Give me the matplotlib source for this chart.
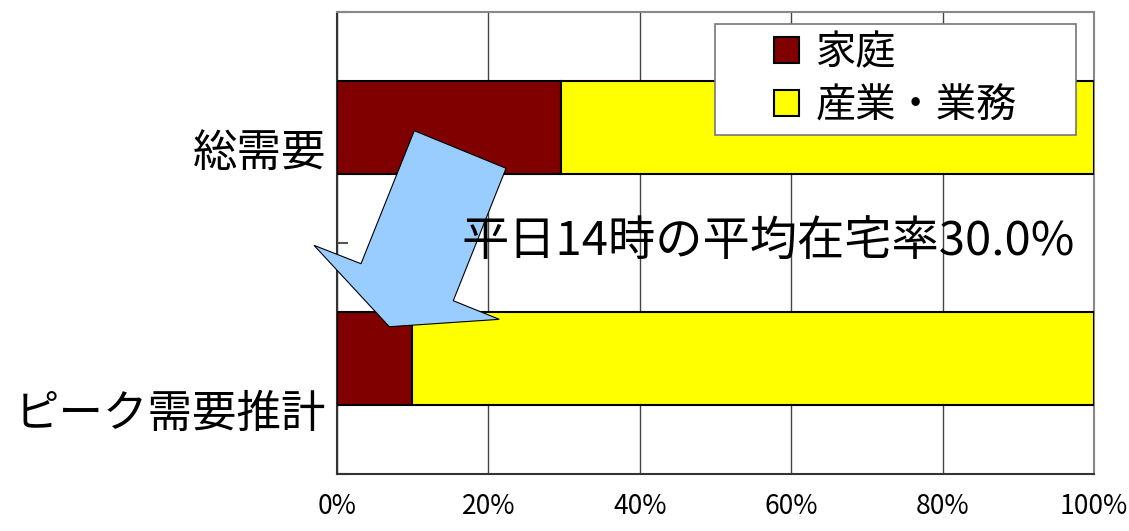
import matplotlib
matplotlib.use("Agg")
import matplotlib.pyplot as plt
from matplotlib.patches import Polygon, Rectangle, Patch
from matplotlib.transforms import ScaledTranslation

plt.rcParams['font.family'] = ['Noto Sans CJK JP', 'DejaVu Sans']

categories = ["総需要", "ピーク需要推計"]
katei = [29.6, 9.9]          # 家庭
sangyo = [70.4, 90.1]        # 産業・業務
series_names = ["家庭", "産業・業務"]
colors = ["#800000", "#FFFF00"]
xticks = [0, 20, 40, 60, 80, 100]
xticklabels = ["0%", "20%", "40%", "60%", "80%", "100%"]
note = "平日14時の平均在宅率30.0%"

fig = plt.figure(figsize=(11.29, 5.31), dpi=100)
ax = fig.add_axes([0.2985, 0.1073, 0.6705, 0.8701])

ypos = [1.5, 0.5]
ax.barh(ypos, katei, height=0.4, color=colors[0], edgecolor="black", linewidth=1.5, zorder=3)
ax.barh(ypos, sangyo, left=katei, height=0.4, color=colors[1], edgecolor="black", linewidth=1.5, zorder=3)

ax.set_xlim(0, 100)
ax.set_ylim(0, 2)
ax.set_xticks(xticks)
ax.set_xticklabels(xticklabels, fontsize=19)
ax.tick_params(axis="x", length=0, pad=14)
ax.xaxis.grid(True, color="#444444", linewidth=1, zorder=0)
ax.set_axisbelow(True)

ax.set_yticks(ypos)
ax.set_yticklabels(categories, fontsize=32)
ax.set_yticks([0, 1, 2], minor=True)
ax.tick_params(axis="y", which="major", length=0, pad=8)
ax.tick_params(axis="y", which="minor", direction="in", length=8, width=1.5, color="#555555")
# labels sit lower than the bars in the original
for lab, dy in zip(ax.get_yticklabels(), [15, 36]):
    lab.set_transform(lab.get_transform() + ScaledTranslation(0, -dy / 72, fig.dpi_scale_trans))

for s in ["left", "bottom"]:
    ax.spines[s].set_color("#333333")
    ax.spines[s].set_linewidth(1.5)
for s in ["top", "right"]:
    ax.spines[s].set_color("#888888")
    ax.spines[s].set_linewidth(1.5)

# block arrow (axes fraction)
arrow = [(0.1021, 0.7431), (0.2233, 0.6617), (0.1536, 0.3751), (0.2144, 0.3348),
         (0.0691, 0.3188), (-0.0304, 0.4950), (0.0317, 0.4552)]
ax.add_patch(Polygon(arrow, closed=True, transform=ax.transAxes, facecolor="#99CCFF",
                     edgecolor="black", linewidth=0.8, zorder=5, clip_on=False))

ax.text(0.165, 0.5, note, transform=ax.transAxes, fontsize=34, ha="left", va="center", zorder=6)

# legend box
ax.add_patch(Rectangle((0.4993, 0.7338), 0.4767, 0.2402, transform=ax.transAxes,
                       facecolor="white", edgecolor="#777777", linewidth=1.2, zorder=6))
handles = [Patch(facecolor=c, edgecolor="black", linewidth=1.5) for c in colors]
leg = ax.legend(handles, series_names, loc="center", bbox_to_anchor=(0.7377, 0.854),
                frameon=False, fontsize=29, handlelength=0.62, handleheight=0.62,
                handletextpad=0.42, labelspacing=0.3, borderpad=0)
leg.set_zorder(7)

fig.savefig("out.png", dpi=100)
